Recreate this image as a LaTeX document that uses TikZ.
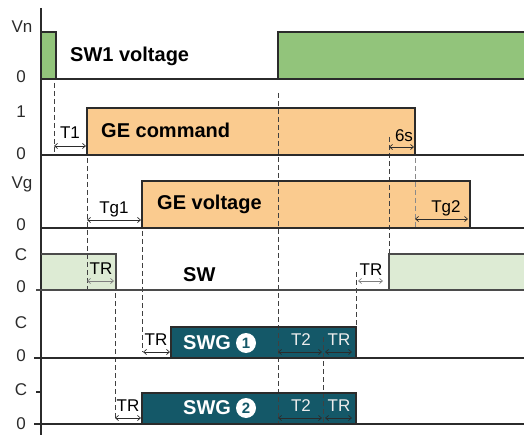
\documentclass[tikz,border=0pt]{standalone}
\usepackage{fontspec}
\setmainfont{Liberation Sans}
\usetikzlibrary{arrows.meta}
\definecolor{gpulse}{HTML}{92C47B}
\definecolor{orng}{HTML}{FACB8F}
\definecolor{lgrn}{HTML}{DDEBD4}
\definecolor{teal1}{HTML}{145868}
\definecolor{ink}{HTML}{2B2B2B}
\tikzset{
  wave/.style={draw=ink, line width=1.4pt, line join=miter},
  base/.style={draw=ink, line width=1.4pt},
  dashv/.style={draw=ink!90, line width=0.9pt, dash pattern=on 5pt off 3pt},
  dim/.style={draw=ink, line width=0.7pt, {Straight Barb[length=3pt,width=5pt]}-{Straight Barb[length=3pt,width=5pt]}},
  dimg/.style={dim, draw=ink!60},
  lab/.style={font=\fontsize{17}{17}\selectfont, text=ink, inner sep=0pt, anchor=base},
  big/.style={font=\bfseries\fontsize{20}{20}\selectfont, text=black, inner sep=0pt, anchor=base west},
  bigw/.style={big, text=white},
  num/.style={circle, fill=white, inner sep=0pt, minimum size=20pt, text=teal1, font=\bfseries\fontsize{15}{15}\selectfont},
  small/.style={font=\fontsize{17}{17}\selectfont, text=black, inner sep=0pt, anchor=base},
  smallw/.style={small, text=white!85!gray},
}
\begin{document}
\begin{tikzpicture}[x=1pt,y=-1pt]
\useasboundingbox (0,0) rectangle (524,435);
% fills
\fill[gpulse] (41,32) rectangle (56,79);
\fill[gpulse] (278,32) rectangle (524,79);
\fill[orng] (87,108) rectangle (415,155);
\fill[orng] (142,181) rectangle (470,228);
\fill[lgrn] (41,254) rectangle (116,290);
\fill[lgrn] (389,254) rectangle (524,290);
\fill[teal1] (171,327) rectangle (356,358);
\fill[teal1] (142,393) rectangle (356,424);
% dashed guides
\draw[dashv] (54,83) -- (54,155);
\draw[dashv] (87,158) -- (87,290);
\draw[dashv] (142,231) -- (142,352);
\draw[dashv] (115,293) -- (115,418);
\draw[dashv] (278,93) -- (278,424);
\draw[dashv] (389,137) -- (389,254);
\draw[dashv, draw=ink!55] (415,158) -- (415,228);
\draw[dashv] (356,272) -- (356,327);
\draw[dashv] (323,337) -- (323,424);
% axis
\draw[base] (41,8) -- (41,435);
% baselines and waves
\draw[base] (41,79) -- (524,79);
\draw[wave] (41,32) -- (56,32) -- (56,79);
\draw[wave] (278,79) -- (278,32) -- (524,32);
\draw[base] (41,155) -- (524,155);
\draw[wave] (87,155) -- (87,108) -- (415,108) -- (415,155);
\draw[base] (41,228) -- (524,228);
\draw[wave] (142,228) -- (142,181) -- (470,181) -- (470,228);
\draw[base, draw=ink!85] (36,290) -- (524,290);
\draw[wave, draw=ink!85] (41,254) -- (116,254) -- (116,290);
\draw[wave, draw=ink!85] (389,290) -- (389,254) -- (524,254);
\draw[base] (34,358) -- (524,358);
\draw[wave] (171,358) -- (171,327) -- (356,327) -- (356,358);
\draw[base] (36,392) -- (41,392);
\draw[base] (34,424) -- (524,424);
\draw[wave] (142,424) -- (142,393) -- (356,393) -- (356,424);
% axis labels
\node[lab] at (22,33) {Vn};
\node[lab] at (21,83) {0};
\node[lab] at (21,118) {1};
\node[lab] at (21,160) {0};
\node[lab] at (22,189) {Vg};
\node[lab] at (21,231) {0};
\node[lab] at (21,261) {C};
\node[lab] at (21,293) {0};
\node[lab] at (21,328) {C};
\node[lab] at (21,361) {0};
\node[lab] at (21,395) {C};
\node[lab] at (21,429) {0};
% big labels
\node[big] (sw1) at (70,62) {SW1 voltage};
\node[big] (gec) at (101,138) {GE command};
\node[big] (gev) at (157,210) {GE voltage};
\node[big] (sw) at (183,281) {SW};
\node[bigw] (swg1) at (183,349) {SWG};
\node[num] (n1) at (246,343) {1};
\node[bigw] (swg2) at (183,414) {SWG};
\node[num] (n2) at (246,408) {2};
% dimension arrows
\draw[dim] (54,146) -- (86,146);
\node[small] at (70,139) {T1};
\draw[dim] (389,147) -- (414,147);
\node[small] at (404,142) {6s};
\draw[dim] (87,220) -- (141,220);
\node[small] at (114,214) {Tg1};
\draw[dim] (415,219) -- (468,219);
\node[small] at (446,213) {Tg2};
\draw[dimg] (87,281) -- (114,281);
\node[small] at (101,275) {TR};
\draw[dimg] (358,281) -- (383,281);
\node[small] at (371,276) {TR};
\draw[dim] (143,352) -- (170,352);
\node[small] at (156,345) {TR};
\draw[dim] (278,352) -- (322,352);
\node[smallw] at (301,345) {T2};
\draw[dim] (325,352) -- (352,352);
\node[smallw] at (339,345) {TR};
\draw[dim] (115,418) -- (141,418);
\node[small] at (128,411) {TR};
\draw[dim] (278,418) -- (322,418);
\node[smallw] at (301,411) {T2};
\draw[dim] (325,418) -- (352,418);
\node[smallw] at (339,411) {TR};
\end{tikzpicture}
\end{document}
